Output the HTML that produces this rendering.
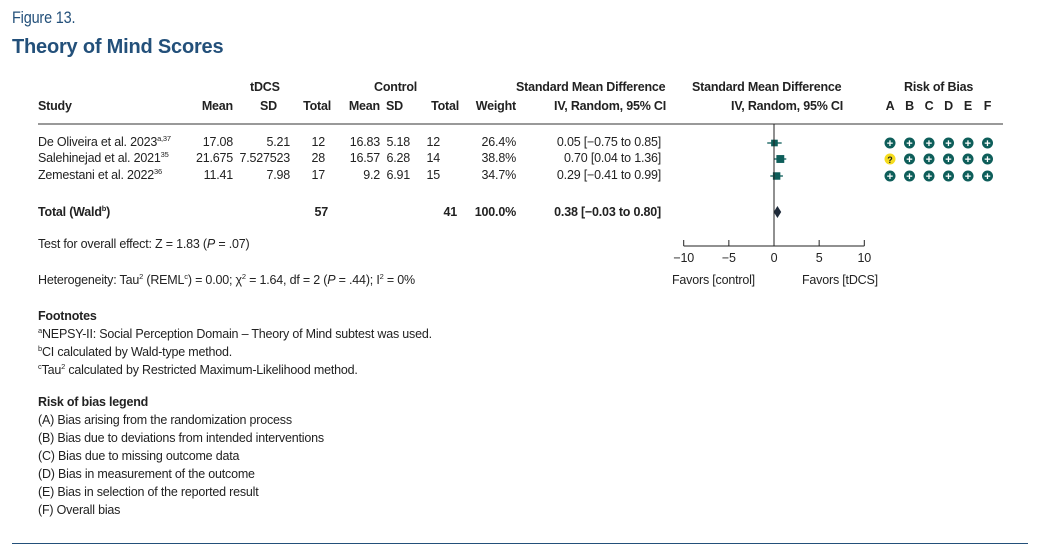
<!DOCTYPE html>
<html><head><meta charset="utf-8"><style>
body{margin:0;background:#fff;width:1041px;height:558px;overflow:hidden;font-family:"Liberation Sans",sans-serif;color:#222;}
.a{position:absolute;white-space:nowrap;font-size:12.5px;letter-spacing:-0.2px;line-height:15px;}
.b{font-weight:bold;}
.r{text-align:right;}
.c{text-align:center;}
sup{font-size:7.5px;line-height:0;vertical-align:5px;}
</style></head><body>
<div class="a" style="left:12px;top:9px;font-size:17px;line-height:18px;color:#23507a;transform:scaleX(0.85);transform-origin:left;">Figure 13.</div>
<div class="a b" style="left:12px;top:36px;font-size:20px;line-height:22px;color:#23507a;">Theory of Mind Scores</div>
<svg id="plot" width="1041" height="558" style="position:absolute;left:0;top:0;"></svg>
<div id="txt"></div>
<div class="a" style="left:38px;top:237px;">Test for overall effect: Z = 1.83 (<i>P</i> = .07)</div>
<div class="a" style="left:38px;top:273px;">Heterogeneity: Tau<sup>2</sup> (REML<sup>c</sup>) = 0.00; χ<sup>2</sup> = 1.64, df = 2 (<i>P</i> = .44); I<sup>2</sup> = 0%</div>
<div class="a" style="left:672px;top:273px;">Favors [control]</div>
<div class="a" style="left:802px;top:273px;">Favors [tDCS]</div>
<div class="a" style="left:38px;top:307px;line-height:18px;">
<b>Footnotes</b><br><sup>a</sup>NEPSY-II: Social Perception Domain – Theory of Mind subtest was used.<br><sup>b</sup>CI calculated by Wald-type method.<br><sup>c</sup>Tau<sup>2</sup> calculated by Restricted Maximum-Likelihood method.</div>
<div class="a" style="left:38px;top:393px;line-height:18px;">
<b>Risk of bias legend</b><br>(A) Bias arising from the randomization process<br>(B) Bias due to deviations from intended interventions<br>(C) Bias due to missing outcome data<br>(D) Bias in measurement of the outcome<br>(E) Bias in selection of the reported result<br>(F) Overall bias</div>
<div style="position:absolute;left:12px;top:543px;width:1016px;height:1px;background:#23507a;"></div>
<script>
const studies=["De Oliveira et al. 2023","Salehinejad et al. 2021","Zemestani et al. 2022"];
const sups=["a,37","35","36"];
const tMean=["17.08","21.675","11.41"],tSD=["5.21","7.527523","7.98"],tN=["12","28","17"];
const cMean=["16.83","16.57","9.2"],cSD=["5.18","6.28","6.91"],cN=["12","14","15"];
const weights=[26.4,38.8,34.7];
const smd=[0.05,0.70,0.29],lo=[-0.75,0.04,-0.41],hi=[0.85,1.36,0.99];
const totalSmd=0.38,totalLo=-0.03,totalHi=0.80;
const ticks=[-10,-5,0,5,10];
const bias=[["+","+","+","+","+","+"],["?","+","+","+","+","+"],["+","+","+","+","+","+"]];
const X=v=>774+v*9.03;
const rowY=[143,159,176];
const svg=document.getElementById('plot'),txt=document.getElementById('txt');
const NS="http://www.w3.org/2000/svg";
function s(tag,at){const e=document.createElementNS(NS,tag);for(const k in at)e.setAttribute(k,at[k]);svg.appendChild(e);return e;}
function t(html,l,top,cls,w,name){const d=document.createElement('div');d.className='a '+(cls||'');d.style.left=l+'px';d.style.top=top+'px';if(w)d.style.width=w+'px';d.innerHTML=html;


txt.appendChild(d);return d;}
function tr(html,r,top,cls,name){return t(html,r-120,top,'r '+(cls||''),120,name);}
t('tDCS',250,80,'b',null,'tdcs-header');t('Control',374,80,'b',null,'control-header');
t('Standard Mean Difference',516,80,'b',null,'smd-header');t('Standard Mean Difference',692,80,'b',null,'smd-plot-header');
t('Risk of Bias',904,80,'b',null,'rob-header');
t('Study',38,99,'b',null,'study-header');tr('Mean',233,99,'b','tdcs-mean-header');tr('SD',277,99,'b','tdcs-sd-header');
tr('Total',331,99,'b','tdcs-total-header');tr('Mean',380,99,'b','control-mean-header');tr('SD',403,99,'b','control-sd-header');
tr('Total',459,99,'b','control-total-header');tr('Weight',516,99,'b','weight-header');
tr('IV, Random, 95% CI',666,99,'b','ci-header');tr('IV, Random, 95% CI',843,99,'b','ci-plot-header');
const L="ABCDEF";for(let j=0;j<6;j++)t(L[j],883+j*19.5,99,'b c',14,'rob-col-'+L[j]);
let hl=s('line',{x1:38,y1:124,x2:1003,y2:124,stroke:'#333','stroke-width':1});


const f=v=>(v<0?'−':'')+Math.abs(v).toFixed(2);
studies.forEach((n,i)=>{const y=rowY[i]-8;
t(n+'<sup>'+sups[i]+'</sup>',38,y,'',null,'study-name');
tr(tMean[i],233,y,'','tdcs-mean');tr(tSD[i],290,y,'','tdcs-sd');tr(tN[i],325,y,'','tdcs-total');
tr(cMean[i],380,y,'','control-mean');tr(cSD[i],410,y,'','control-sd');tr(cN[i],440,y,'','control-total');
tr(weights[i].toFixed(1)+'%',516,y,'','weight');
tr(f(smd[i])+' [' +f(lo[i])+' to '+f(hi[i])+']',661,y,'','smd-ci');
const ln=s('line',{x1:X(lo[i]),x2:X(hi[i]),y1:rowY[i],y2:rowY[i],stroke:'#0e5e5a','stroke-width':1.3});


const sz=4+weights[i]/10;
const sq=s('rect',{x:X(smd[i])-sz/2,y:rowY[i]-sz/2,width:sz,height:sz,fill:'#0e5e5a'});


bias[i].forEach((b,j)=>{const cx=890+j*19.5;
const c=s('circle',{cx:cx,cy:rowY[i],r:5.5,fill:b=='?'?'#f5dc1e':'#0e5e5a'});


const tt=s('text',{x:cx,y:rowY[i]+4,'text-anchor':'middle','font-size':b=='?'?9:11,'font-weight':'bold','font-family':'Liberation Sans',fill:b=='?'?'#222':'#fff'});tt.textContent=b;

});
});
t('Total (Wald<sup>b</sup>)',38,205,'b',null,'total-label');tr('57',328,205,'b','tdcs-total-sum');tr('41',457,205,'b','control-total-sum');
tr('100.0%',516,205,'b','total-weight');tr(totalSmd.toFixed(2)+' ['+f(totalLo)+' to '+f(totalHi)+']',661,205,'b','total-smd-ci');
const d=s('polygon',{points:`${X(totalLo)},212 ${X(totalSmd)},206 ${X(totalHi)},212 ${X(totalSmd)},218`,fill:'#1e2a3a'});


const z=s('line',{x1:X(0),x2:X(0),y1:124,y2:246,stroke:'#222','stroke-width':1});


const ax=s('line',{x1:X(ticks[0]),x2:X(ticks[ticks.length-1]),y1:246,y2:246,stroke:'#222','stroke-width':1});


ticks.forEach(v=>{const tk=s('line',{x1:X(v),x2:X(v),y1:240,y2:246,stroke:'#222'});


t(v<0?'−'+(-v):String(v),X(v)-20,251,'c',40,'x-tick-label');});
</script>
</body></html>
